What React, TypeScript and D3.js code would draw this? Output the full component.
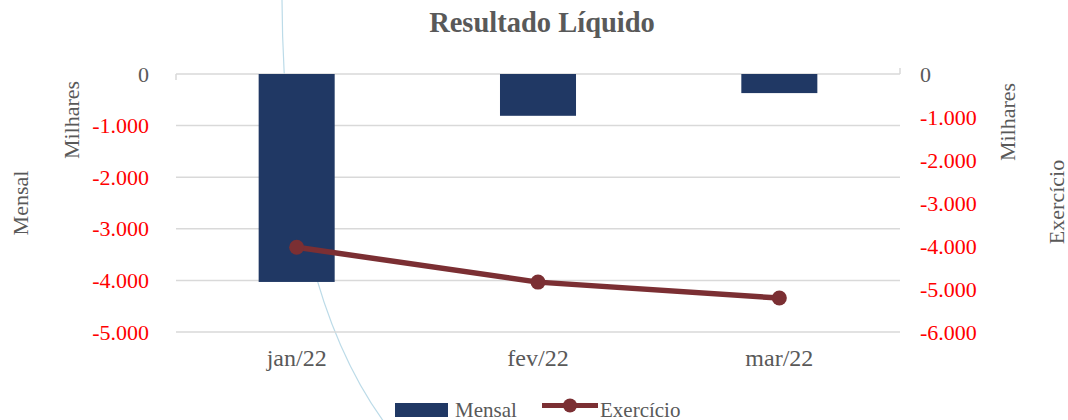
import React from "react";
import * as d3 from "d3";

const categories = ["jan/22", "fev/22", "mar/22"];
const mensal = [-4030, -810, -370];
const exercicio = [-4030, -4840, -5210];
const leftTicks = [0, -1000, -2000, -3000, -4000, -5000];
const rightTicks = [0, -1000, -2000, -3000, -4000, -5000, -6000];

const W = 1068, H = 420;
const fmt = (v: number) => (v === 0 ? "0" : (v < 0 ? "-" : "") + d3.format(",")(Math.abs(v)).replace(/,/g, "."));

export default function App() {
  const x = d3.scaleBand().domain(categories).range([176, 900]).paddingInner(0.685).paddingOuter(0.3425);
  const yL = d3.scaleLinear().domain([-5000, 0]).range([332, 74]);
  const yR = d3.scaleLinear().domain([-6000, 0]).range([332, 74]);
  const cx = (c: string) => (x(c) as number) + x.bandwidth() / 2;
  const line = d3.line<number>().x((_, i) => cx(categories[i])).y((d) => yR(d));
  const font = "'Liberation Serif', 'Times New Roman', serif";
  const gray = "#595959";
  const red = "#ff0000";
  const wine = "#7b2f33";
  return (
    <svg width={W} height={H} style={{ position: "absolute", left: 0, top: 0, background: "#fff" }}>
      <path d="M282,0 C283,170 310,320 384,422" fill="none" stroke="#bcdbe8" strokeWidth={1.2} />
      <text x={542} y={32} textAnchor="middle" fontFamily={font} fontWeight="bold" fontSize={28.5} fill={gray}>
        Resultado Líquido
      </text>
      {leftTicks.map((t) => (
        <line key={"g" + t} x1={176} x2={900} y1={yL(t)} y2={yL(t)} stroke="#d9d9d9" strokeWidth={1.5} />
      ))}
      <line x1={176} x2={176} y1={74} y2={80} stroke="#d9d9d9" strokeWidth={1.5} />
      <line x1={900} x2={900} y1={68} y2={74} stroke="#d9d9d9" strokeWidth={1.5} />
      {leftTicks.map((t) => (
        <text key={"l" + t} x={149} y={yL(t) + 7.5} textAnchor="end" fontFamily={font} fontSize={22} fill={t === 0 ? gray : red}>
          {fmt(t)}
        </text>
      ))}
      {rightTicks.map((t) => (
        <text key={"r" + t} x={920} y={yR(t) + 7.5} textAnchor="start" fontFamily={font} fontSize={22} fill={t === 0 ? gray : red}>
          {fmt(t)}
        </text>
      ))}
      <text transform="translate(79,120) rotate(-90)" textAnchor="middle" fontFamily={font} fontSize={22} fill={gray}>Milhares</text>
      <text transform="translate(28,203) rotate(-90)" textAnchor="middle" fontFamily={font} fontSize={22} fill={gray}>Mensal</text>
      <text transform="translate(1015,122) rotate(-90)" textAnchor="middle" fontFamily={font} fontSize={22} fill={gray}>Milhares</text>
      <text transform="translate(1064,202) rotate(-90)" textAnchor="middle" fontFamily={font} fontSize={22} fill={gray}>Exercício</text>
      {categories.map((c, i) => (
        <rect key={c} x={x(c)} y={yL(0)} width={x.bandwidth()} height={yL(mensal[i]) - yL(0)} fill="#203864" />
      ))}
      <path d={line(exercicio) || ""} fill="none" stroke={wine} strokeWidth={5.5} strokeLinejoin="round" />
      {exercicio.map((v, i) => (
        <circle key={i} cx={cx(categories[i])} cy={yR(v)} r={7.5} fill={wine} />
      ))}
      {categories.map((c) => (
        <text key={"c" + c} x={cx(c)} y={366} textAnchor="middle" fontFamily={font} fontSize={24} fill={gray}>{c}</text>
      ))}
      <rect x={395} y={403} width={53} height={14} fill="#203864" />
      <text x={455} y={417} fontFamily={font} fontSize={21} fill={gray}>Mensal</text>
      <line x1={542} x2={598} y1={405.5} y2={405.5} stroke={wine} strokeWidth={5} />
      <circle cx={570} cy={405.5} r={7} fill={wine} />
      <text x={600} y={417} fontFamily={font} fontSize={21} fill={gray}>Exercício</text>
    </svg>
  );
}
